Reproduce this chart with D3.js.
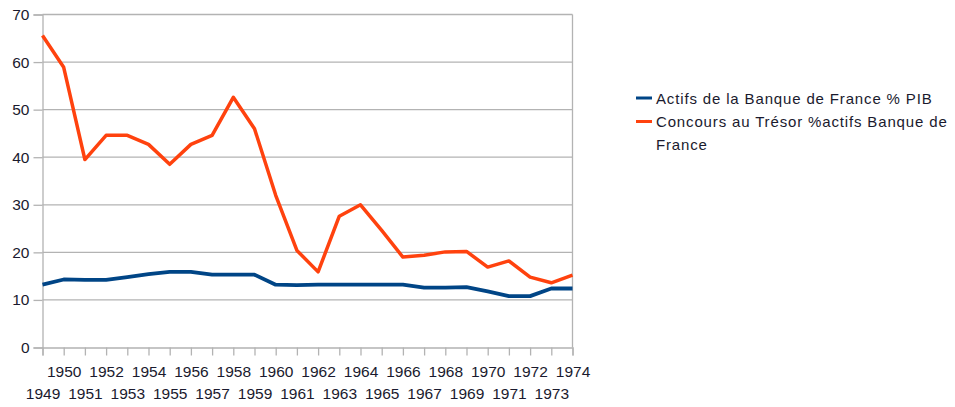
<!DOCTYPE html>
<html><head><meta charset="utf-8">
<script src="https://cdn.jsdelivr.net/npm/d3@7"></script>
<style>body{margin:0;background:#fff}svg{display:block}text{font-family:"Liberation Sans",Arial,sans-serif;fill:#1a1a2e}</style>
</head><body><svg id="c" width="955" height="407"></svg>
<script>
const years = [1949,1950,1951,1952,1953,1954,1955,1956,1957,1958,1959,1960,1961,1962,1963,1964,1965,1966,1967,1968,1969,1970,1971,1972,1973,1974];
const actifsPIB = [13.2,14.3,14.2,14.2,14.8,15.4,15.9,15.9,15.3,15.3,15.3,13.2,13.1,13.2,13.2,13.2,13.2,13.2,12.6,12.6,12.7,11.8,10.8,10.8,12.4,12.4];
const concoursTresor = [65.6,58.9,39.5,44.6,44.6,42.7,38.5,42.7,44.6,52.6,46.0,32.0,20.4,15.9,27.6,30.0,24.6,19.0,19.4,20.1,20.2,16.9,18.2,14.8,13.6,15.2];
const yTicks = [0,10,20,30,40,50,60,70];
const seriesNames = ["Actifs de la Banque de France % PIB","Concours au Trésor %actifs Banque de France"];
const seriesColors = ["#004586","#ff420e"];

const svg = d3.select("#c");
const x = d3.scaleLinear().domain([1949,1974]).range([42.5,572.5]);
const y = d3.scaleLinear().domain([0,70]).range([347.5,14.5]);

// gridlines
svg.append("g").selectAll("line").data(yTicks.filter(d=>d>0)).join("line")
  .attr("x1",x(1949)).attr("x2",x(1974)).attr("y1",d=>y(d)).attr("y2",d=>y(d))
  .attr("stroke","#b3b3b3").attr("stroke-width",1.3);
// right border
svg.append("line").attr("x1",x(1974)).attr("x2",x(1974)).attr("y1",y(70)).attr("y2",y(0))
  .attr("stroke","#b3b3b3").attr("stroke-width",1.3);

// y axis
const ya = svg.append("g").attr("transform",`translate(${x(1949)},0)`)
  .call(d3.axisLeft(y).tickValues(yTicks).tickSize(9).tickPadding(4).tickFormat(d3.format("d")));
ya.select(".domain").attr("stroke","#b3b3b3").attr("stroke-width",1.3);
ya.selectAll(".tick line").attr("stroke","#b3b3b3").attr("stroke-width",1.3);
ya.selectAll(".tick text").style("font-size","15.5px").attr("font-family",null).attr("fill","#1a1a2e");

// x axis
const xa = svg.append("g").attr("transform",`translate(0,${y(0)})`)
  .call(d3.axisBottom(x).tickValues(years).tickSize(8).tickFormat(d3.format("d")));
xa.select(".domain").attr("stroke","#b3b3b3").attr("stroke-width",1.3);
xa.selectAll(".tick line").attr("stroke","#b3b3b3").attr("stroke-width",1.3);
xa.selectAll(".tick text").style("font-size","15.5px").attr("font-family",null).attr("fill","#1a1a2e")
  .attr("dy",null).attr("y",(d,i)=> i%2===1 ? 29 : 51);

// lines
const line = d3.line().x((d,i)=>x(years[i])).y(d=>y(d));
svg.append("path").datum(actifsPIB).attr("d",line).attr("fill","none")
  .attr("stroke",seriesColors[0]).attr("stroke-width",3.8).attr("stroke-linejoin","round");
svg.append("path").datum(concoursTresor).attr("d",line).attr("fill","none")
  .attr("stroke",seriesColors[1]).attr("stroke-width",3.5).attr("stroke-linejoin","round");

// legend
const lg = svg.append("g");
const entries = [
  {lines:["Actifs de la Banque de France % PIB"], y:98, c:seriesColors[0]},
  {lines:["Concours au Trésor %actifs Banque de","France"], y:121.5, c:seriesColors[1]}
];
entries.forEach(e=>{
  lg.append("line").attr("x1",636).attr("x2",652).attr("y1",e.y).attr("y2",e.y)
    .attr("stroke",e.c).attr("stroke-width",3);
  const t = lg.append("text").attr("x",656).attr("y",e.y+5.5).style("font-size","15px").style("letter-spacing","0.85px");
  e.lines.forEach((s,i)=>t.append("tspan").attr("x",656).attr("dy",i?22.5:0).text(s));
});
</script></body></html>
